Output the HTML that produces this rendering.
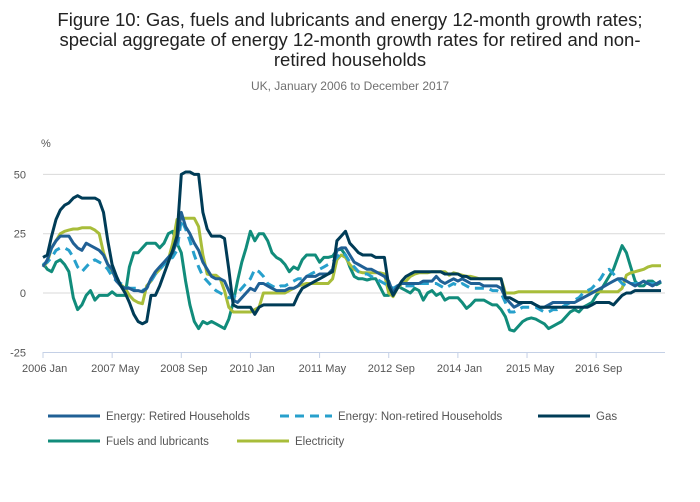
<!DOCTYPE html>
<html><head><meta charset="utf-8"><style>
body{margin:0;background:#fff;font-family:"Liberation Sans",sans-serif;}
#wrap{position:relative;width:700px;height:502px;overflow:hidden}
</style></head><body>
<div id="wrap">
<svg id="chart" width="700" height="502" xmlns="http://www.w3.org/2000/svg">
<text x="350" y="26" text-anchor="middle" font-size="18.5" fill="#222">Figure 10: Gas, fuels and lubricants and energy 12-month growth rates;</text>
<text x="350" y="46" text-anchor="middle" font-size="18.5" fill="#222">special aggregate of energy 12-month growth rates for retired and non-</text>
<text x="350" y="66" text-anchor="middle" font-size="18.5" fill="#222">retired households</text>
<text x="350" y="90" text-anchor="middle" font-size="12" fill="#707070">UK, January 2006 to December 2017</text>
<text x="41" y="147" font-size="11" fill="#555">%</text>
<g id="grid"></g><g id="series"></g><g id="legend"></g>
</svg></div>
<script>
const yTicks=[50,25,0,-25];
const xTickLabels=["2006 Jan","2007 May","2008 Sep","2010 Jan","2011 May","2012 Sep","2014 Jan","2015 May","2016 Sep"];
const xTickIdx=[0,16,32,48,64,80,96,112,128];
const seriesNames=["Fuels and lubricants","Electricity","Energy: Non-retired Households","Energy: Retired Households","Gas"];
const gas=[15,16,24,31,35,37,38,40,41,40,40,40, 40,39,34,22,12,7,3,0,-4,-9,-12,-13, -12,-1,-1,3,8,13,18,24,50,51,51,50, 50,34,27,24,24,24,23,10,-5,-6,-6,-6, -6,-9,-6,-5,-5,-5,-5,-5,-5,-5,-5,-1, 2,3,4,5,6,7,8,9,22,24,26,21, 19,17,16,16,16,15,15,15,3,-1,2,5, 7,8,9,9,9,9,9,9,9,8,8,8, 8,7,7,6,6,6,6,6,6,6,6,-2, -2,-3,-4,-4,-4,-4,-5,-6,-6,-6,-6,-6, -6,-6,-6,-6,-6,-6,-6,-5,-4,-4,-4,-4, -5,-3,-1,0,0,1,1,1,1,1,1,1];
const retired=[11,14,19,22,24,24,24,21,19,18,21,20, 19,18,16,12,10,5,3,2,2,1,1,0.5, 2,6,9,11,13,15,17,22,34,28,25,21, 18,13,10,7,6,6,5,1,-3,-4,-2,0, 2,1,4,4,3,2,1,1,1,2,2,3, 5,7,7,7,8,8,8,10,18,19,19,16, 13,12,11,10,10,9,8,7,5,0,3,4, 4,4,4,4,5,5,5,7,5,4,5,6, 5,6,5,4,4,4,3,3,3,3,2,-2, -4,-6,-5,-4,-4,-4,-5,-6,-6,-5,-4,-4, -4,-4,-4,-4,-3,-2,-1,0,1,2,3,4, 5,6,6,5,4,3,4,5,4,3,4,5];
const nonRetired=[12,13,15,18,19,19,18,15,11,9,11,13, 14,13,12,10,7,5,4,3,2,2,2,1, 2,5,8,10,12,14,15,18,31,27,22,16, 11,7,5,3,1,0,-1,-2,-2,0,2,4, 6,10,9,7,4,3,2,3,3,4,5,6, 6,7,8,9,10,11,12,13,15,17,16,13, 11,9,8,8,7,6,5,4,3,2,3,3, 3,3,3,4,4,4,4,4,3,2,3,4, 3,4,3,2,2,2,2,2,1,1,0,-4, -8,-8,-7,-6,-6,-6,-6,-7,-8,-8,-7,-7, -6,-5,-4,-3,-2,0,1,2,4,6,9,10, 8,6,4,3,4,4,4,4,4,4,4,5];
const fuels=[12.5,10,9,13,14,12,9,-2,-7,-5,-1,1, -3,-1,-1,-1,0.5,-1,-1,-1,11,17,17,19, 21,21,21,19,21,25,26,21,17,5,-5,-12, -15,-12,-13,-12,-13,-14,-15,-11,-4,5,13,19, 26,22,25,25,22,17,15,14,12,9,11,10, 14,16,16,16,13,15,15,15.5,18,18.5,16,11, 7,6,6,5.5,6,6,2.5,-1,-1,0.5,3,2, 1,0,2,1,-3,0,1,-1,0,-3,-2,-2, -2,-4,-6.5,-5,-3,-3,-3,-4,-5,-5,-7,-10, -15.5,-16,-14,-12,-11,-10.5,-11,-12,-13,-15,-14,-13, -12,-10,-8,-7,-8,-6,-5,-4,-1,1,4,7, 10,15,20,17,11,5,3,3,5,5,3.5,4.5];
const electricity=[11,13,19,22,25,26,26.5,27,27,27.5,27.5,27.5, 26.5,25,17,12,9,6,3.5,2,-1,-3,-4,-4.5, 3,5,8,10,12,14,21,31,31.5,31.5,31.5,31.5, 28,16,8,7.5,7.5,6,1,-6,-8,-8,-8,-8, -8,-7,-6,0,0,0,0,0,0,1,2,3, 3.5,4,4,4,4,4,4,6,14,16,15,12, 10,9,8.5,8.5,8.5,8.5,8.5,8,0,-1.5,2,4, 5,7,8,8.5,8.5,8.5,9,9,9,9,7.5,8.5, 8,7.5,7,7,6.5,6,6,6,6,6,6,0, 0,0,0.5,0.5,0.5,0.5,0.5,0.5,0.5,0.5,0.5,0.5, 0.5,0.5,0.5,0.5,0.5,0.5,0.5,0.5,0.5,0.5,0.5,0.5, 0.5,0.5,2,7.5,8.5,9,9.5,10,11,11.5,11.5,11.5];

const NS="http://www.w3.org/2000/svg";
const X0=43,X1=661,N=144;
function xs(i){return X0+(X1-X0)*i/(N-1);}
function ys(v){return 293-v*(59.3/25);}
function mk(tag,attrs,parent){const e=document.createElementNS(NS,tag);for(const k in attrs)e.setAttribute(k,attrs[k]);parent.appendChild(e);return e;}
const grid=document.getElementById('grid');
yTicks.forEach(v=>{
  if(v>-25){const l=mk('line',{x1:X0,x2:665,y1:ys(v),y2:ys(v),stroke:'#d9d9d9','stroke-width':1},grid);
  
  }
  const t=mk('text',{x:26,y:ys(v)+4,'text-anchor':'end','font-size':11,fill:'#555'},grid);t.textContent=v;
  
  
});
const ax=mk('line',{x1:X0,x2:665,y1:352.5,y2:352.5,stroke:'#c4d0e6','stroke-width':1},grid);


xTickIdx.forEach((idx,k)=>{
  const x=xs(idx);
  const tk=mk('line',{x1:x,x2:x,y1:352,y2:358,stroke:'#c4d0e6','stroke-width':1},grid);
  
  
  const t=mk('text',{x:x-21,y:372,'font-size':11,fill:'#555'},grid);t.textContent=xTickLabels[k];
  
  
});
const sg=document.getElementById('series');
const defs=[[fuels,'#118c7b',''],[electricity,'#a8bd3a',''],[nonRetired,'#27a0cc','9,6'],[retired,'#206095',''],[gas,'#003c57','']];
defs.forEach((d,k)=>{
  const pts=d[0].map((v,i)=>xs(i).toFixed(1)+','+ys(v).toFixed(1)).join(' ');
  const p=mk('polyline',{points:pts,fill:'none',stroke:d[1],'stroke-width':3,'stroke-linejoin':'round','stroke-dasharray':d[2]},sg);
  
  
});
const lg=document.getElementById('legend');
const items=[[48,416,'#206095','','Energy: Retired Households'],[280,416,'#27a0cc','9,6','Energy: Non-retired Households'],[538,416,'#003c57','','Gas'],[48,441,'#118c7b','','Fuels and lubricants'],[237,441,'#a8bd3a','','Electricity']];
items.forEach(it=>{
  const g=mk('g',{},lg);
  
  
  mk('line',{x1:it[0],x2:it[0]+52,y1:it[1],y2:it[1],stroke:it[2],'stroke-width':3,'stroke-dasharray':it[3]},g);
  const t=mk('text',{x:it[0]+58,y:it[1]+4,'font-size':11.5,fill:'#555'},g);t.textContent=it[4];
});
</script>
</body></html>
